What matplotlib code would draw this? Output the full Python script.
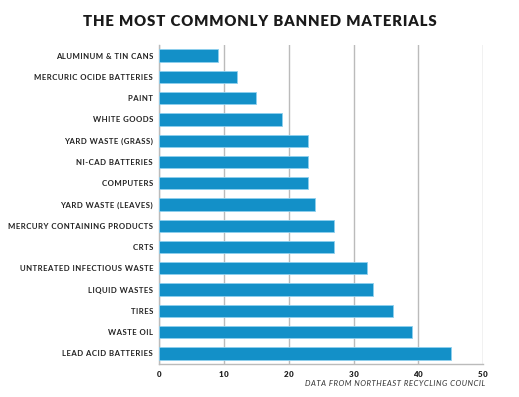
import matplotlib
matplotlib.use("Agg")
import matplotlib.pyplot as plt

categories = ["ALUMINUM & TIN CANS", "MERCURIC OCIDE BATTERIES", "PAINT", "WHITE GOODS",
              "YARD WASTE (GRASS)", "NI-CAD BATTERIES", "COMPUTERS", "YARD WASTE (LEAVES)",
              "MERCURY CONTAINING PRODUCTS", "CRTS", "UNTREATED INFECTIOUS WASTE",
              "LIQUID WASTES", "TIRES", "WASTE OIL", "LEAD ACID BATTERIES"]
values = [9, 12, 15, 19, 23, 23, 23, 24, 27, 27, 32, 33, 36, 39, 45]
xticks = [0, 10, 20, 30, 40, 50]

plt.rcParams['font.family'] = ['Lato', 'DejaVu Sans']


def track(s):
    # letter spacing via hair spaces
    return '\u200a'.join(s)


fig = plt.figure(figsize=(5.19, 3.97), dpi=100)
ax = fig.add_axes([0.307, 1 - 364 / 397, 0.931 - 0.307, (364 - 45) / 397])

ypos = list(range(len(categories)))
ax.barh(ypos, values, height=0.58, color='#1390c8', edgecolor='#8fd0ee', linewidth=0.6, zorder=3)
ax.set_ylim(len(categories) - 0.5, -0.5)
ax.set_xlim(0, 50)
ax.set_xticks(xticks)
ax.set_yticks(ypos)
ax.set_yticklabels([track(c) for c in categories], fontsize=5.6, fontweight='bold', color='#222222')
ax.set_xticklabels([track(str(t)) for t in xticks], fontsize=5.8, fontweight='heavy', color='#222222')
ax.tick_params(length=0)
ax.tick_params(axis='y', pad=4.5)
ax.tick_params(axis='x', pad=5)
ax.grid(axis='x', color='#bbbbbb', linewidth=1, zorder=0)
for s in ['top', 'right']:
    ax.spines[s].set_visible(False)
for s in ['left', 'bottom']:
    ax.spines[s].set_color('#bbbbbb')
    ax.spines[s].set_linewidth(1)

fig.text(0.5, 1 - 21 / 397, track("THE MOST COMMONLY BANNED MATERIALS"), ha='center', va='center',
         fontsize=10.7, fontweight='heavy', color='#1a1a1a')
fig.text(485 / 519, 1 - 384 / 397, track("DATA FROM NORTHEAST RECYCLING COUNCIL"), ha='right', va='center',
         fontsize=5.6, style='italic', color='#333333')

fig.savefig("out.png", dpi=100)
